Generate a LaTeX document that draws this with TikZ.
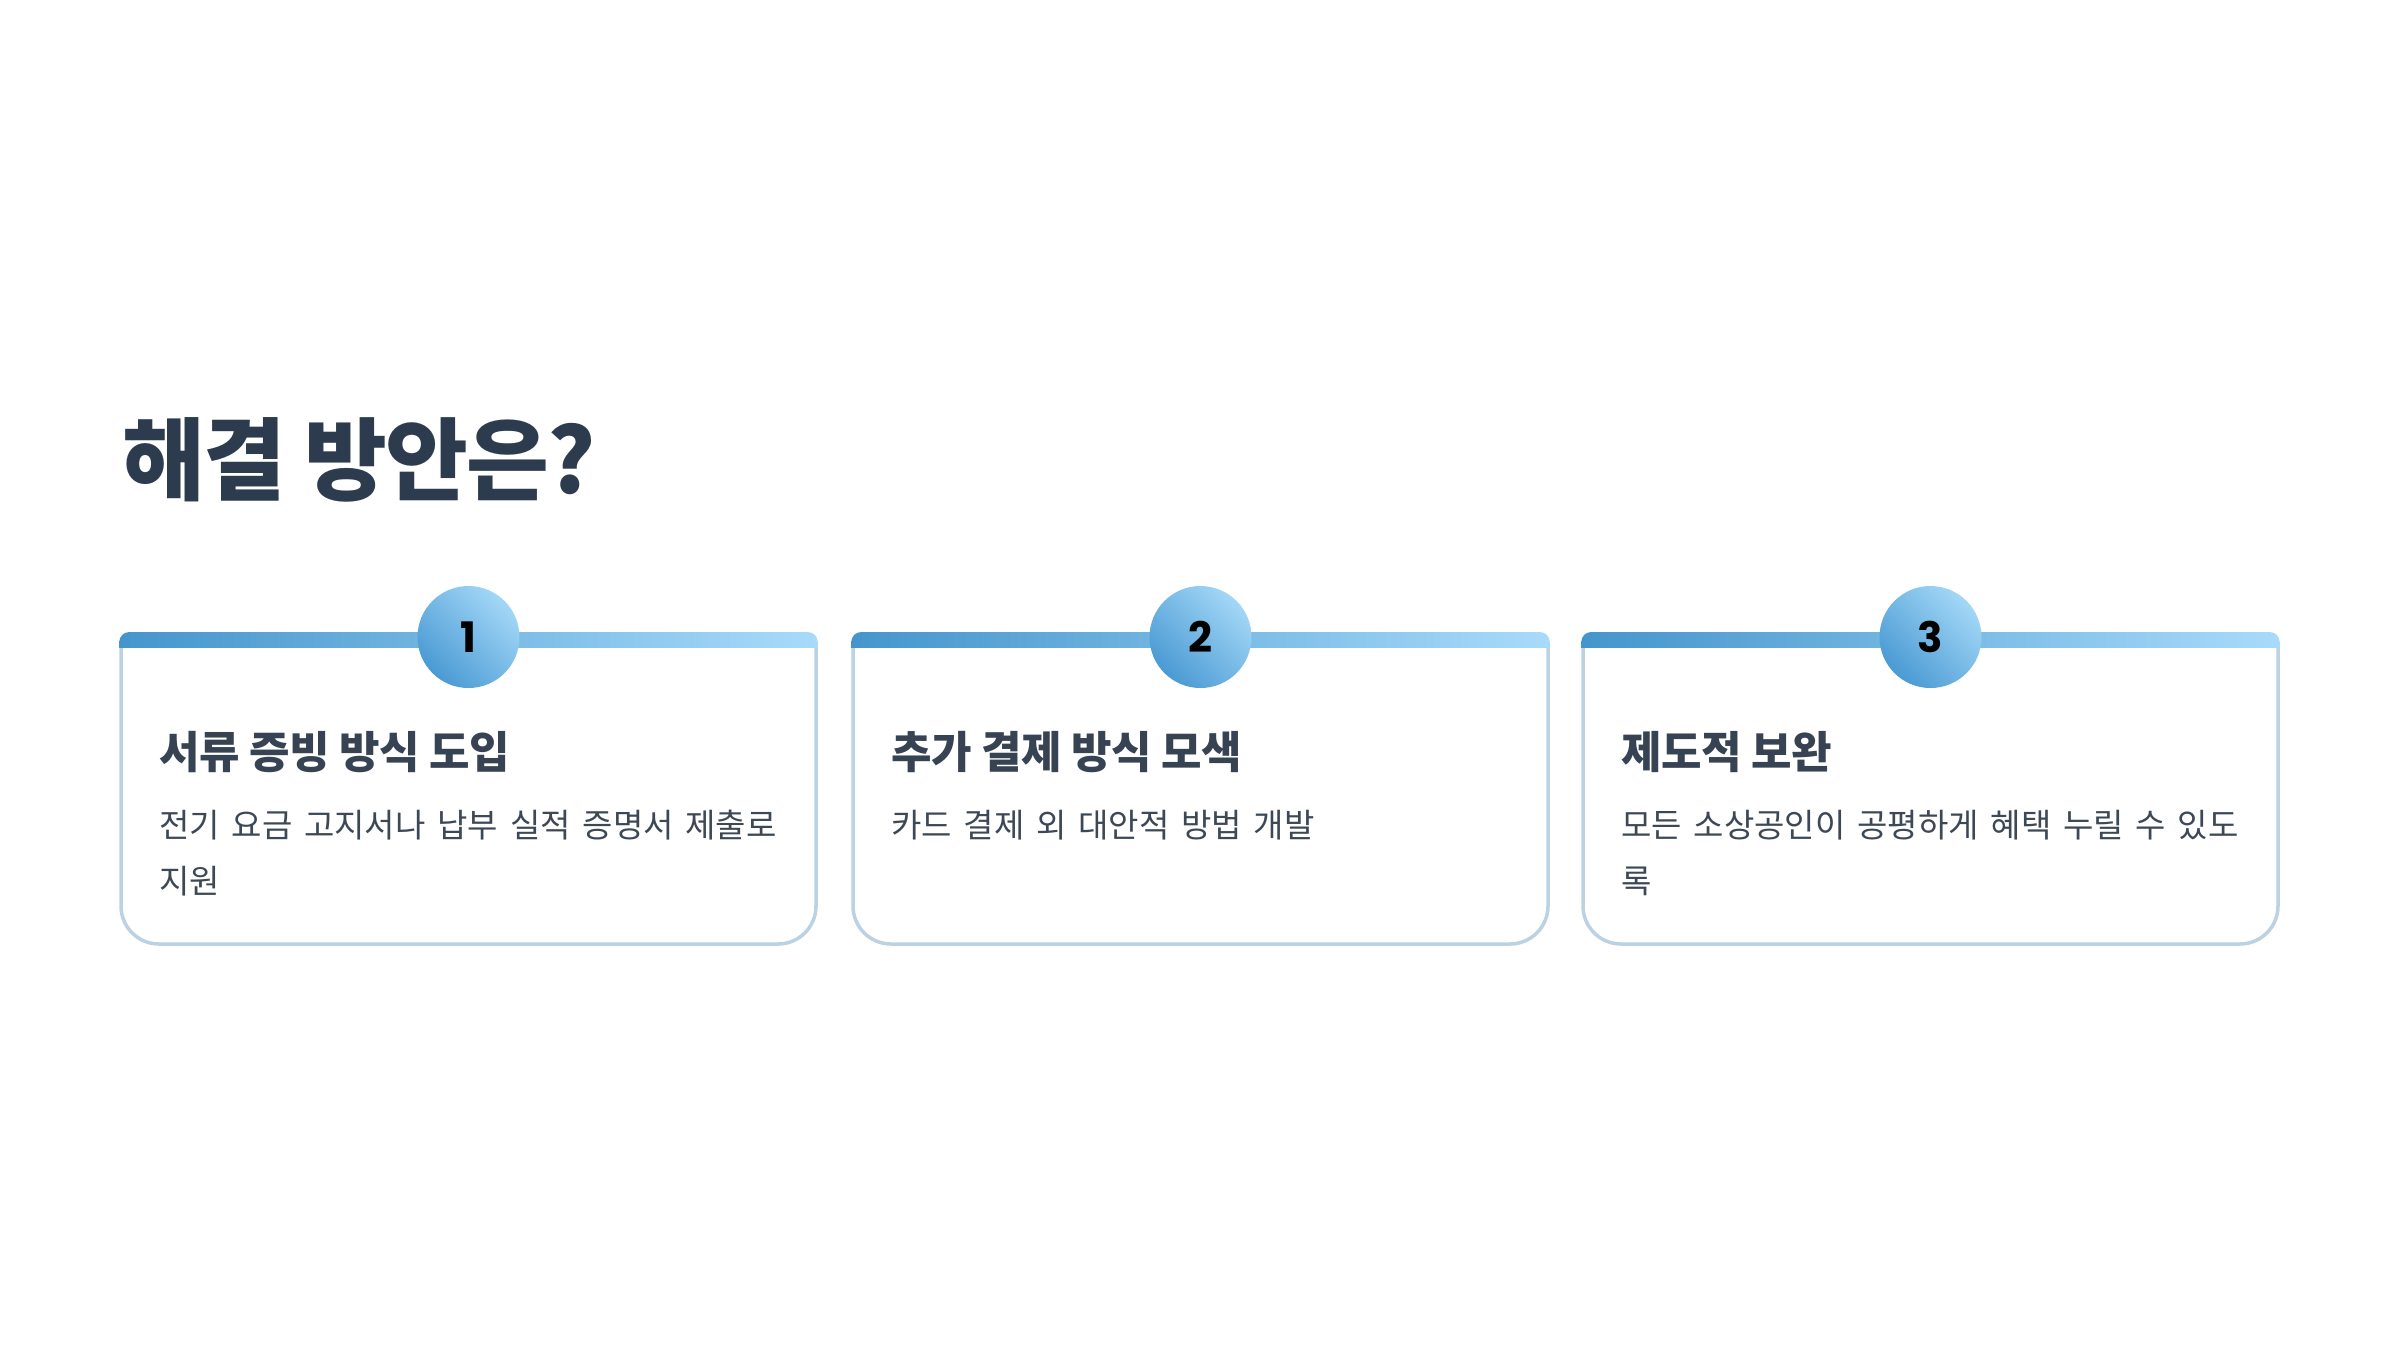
\documentclass[tikz,border=0pt]{standalone}
\usepackage{fontspec}
\setmainfont{Noto Sans CJK KR}
\newfontfamily\titlefont{Noto Sans CJK KR}[LetterSpace=-2]
\newfontfamily\headfont{Noto Sans CJK KR}[LetterSpace=-1]
\newfontfamily\bodyfont{Noto Sans CJK KR}[WordSpace=1.6]
\newfontfamily\numfont{Poppins}
\definecolor{titlec}{HTML}{2D3B4E}
\definecolor{headc}{HTML}{374353}
\definecolor{bodyc}{HTML}{3D4856}
\definecolor{borderc}{HTML}{BCD1E1}
\definecolor{barL}{HTML}{4595CC}
\definecolor{barR}{HTML}{A8DBFA}
\definecolor{circD}{HTML}{4A9AD3}
\definecolor{circL}{HTML}{A3D7F7}
\tikzset{
  titlestyle/.style={font=\titlefont\bfseries\fontsize{90}{100}\selectfont, text=titlec, inner sep=0, anchor=base west},
  headstyle/.style={font=\headfont\bfseries\fontsize{44}{52}\selectfont, text=headc, inner sep=0, anchor=base west},
  bodystyle/.style={font=\bodyfont\fontsize{33}{40}\selectfont, text=bodyc, inner sep=0, anchor=base west},
  numcirc/.style={circle, minimum size=102pt, inner sep=0, top color=circL, bottom color=circD, shading angle=-45, font=\numfont\bfseries\fontsize{42}{46}\selectfont, text=black},
  cardborder/.style={draw=borderc, line width=3.5pt, rounded corners=38pt},
}
\begin{document}
\begin{tikzpicture}[x=1pt,y=-1pt]
\useasboundingbox (0,0) rectangle (2400,1350);
\node[titlestyle] (title) at (122,493) {해결 방안은?};
\foreach \i/\xl/\head/\la/\lb in {1/121/서류 증빙 방식 도입/전기 요금 고지서나 납부 실적 증명서 제출로/지원, 2/853/추가 결제 방식 모색/카드 결제 외 대안적 방법 개발/, 3/1583/제도적 보완/모든 소상공인이 공평하게 혜택 누릴 수 있도/록}{
  \pgfmathsetmacro\xr{\xl+695}
  \pgfmathsetmacro\xc{\xl+347.5}
  \shade[left color=barL, right color=barR, rounded corners=10pt] (\xl-1.75,632) rectangle (\xr+1.75,672);
  \fill[white] (\xl-4,648) rectangle (\xr+4,700);
  \draw[cardborder] (\xl,648) |- (\xr,944) -- (\xr,648);
  \node[numcirc] (num\i) at (\xc,637) {\i};
  \node[headstyle] (head\i) at (\xl+38,768) {\head};
  \node[bodystyle] (bodyA\i) at (\xl+38,837) {\la};
  \node[bodystyle] (bodyB\i) at (\xl+38,893) {\lb};
}
\end{tikzpicture}
\end{document}
